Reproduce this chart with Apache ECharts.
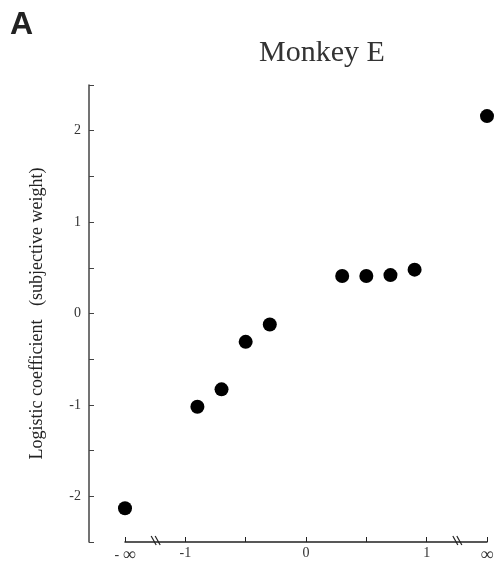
<!DOCTYPE html>
<html>
<head>
<meta charset="utf-8">
<script src="https://cdn.jsdelivr.net/npm/echarts@6/dist/echarts.min.js"></script>
<style>
  html, body { margin: 0; padding: 0; background: #fff; }
  #chart { width: 496px; height: 562px; }
</style>
</head>
<body>
<div id="chart"></div>
<script>
// Evidence strength (x, with -inf/+inf mapped to the axis ends) vs. fitted weight
var xValues = [-1.5, -0.9, -0.7, -0.5, -0.3, 0.3, 0.5, 0.7, 0.9, 1.5];
var weights = [-2.13, -1.02, -0.83, -0.31, -0.12, 0.41, 0.41, 0.42, 0.48, 2.16];
var xTickLabels = { '-1.5': '- {inf|\u221e}', '-1': '-1', '0': '0', '1': '1', '1.5': '{inf|\u221e}' };
var yTickLabels = [-2, -1, 0, 1, 2];
var breakPositions = [-1.25, 1.25];

var serif = '"Liberation Serif", "DejaVu Serif", serif';
var axisColor = '#444';

var chart = echarts.init(document.getElementById('chart'), null, { renderer: 'canvas' });

var points = xValues.map(function (x, i) { return [x, weights[i]]; });

chart.setOption({
  animation: false,
  title: [
    {
      text: 'A', left: 5, top: 4,
      textStyle: { fontFamily: '"Liberation Sans", Arial, sans-serif', fontWeight: 'bold', fontSize: 32, color: '#222' }
    },
    {
      text: 'Monkey E', left: 317, top: 33, textAlign: 'center',
      textStyle: { fontFamily: serif, fontWeight: 'normal', fontSize: 30, color: '#333' }
    }
  ],
  grid: [
    { left: 89, top: 85, right: 9, height: 457, outerBoundsMode: 'none', containLabel: false },
    { left: 125, top: 85, width: 362, height: 457, outerBoundsMode: 'none', containLabel: false }
  ],
  xAxis: [
    { gridIndex: 0, type: 'value', min: 0, max: 1, show: false },
    {
      gridIndex: 1, type: 'value', min: -1.5, max: 1.5, interval: 0.5,
      axisLine: { show: true, onZero: false, lineStyle: { color: '#222', width: 1.5 } },
      axisTick: { show: true, inside: true, length: 5, lineStyle: { color: '#222', width: 1 } },
      splitLine: { show: false },
      axisLabel: {
        margin: 4, fontFamily: serif, fontSize: 14, color: '#333',
        rich: { inf: { fontFamily: serif, fontSize: 18, color: '#333' } },
        formatter: function (v) {
          var k = String(Math.round(v * 10) / 10);
          return xTickLabels.hasOwnProperty(k) ? xTickLabels[k] : '';
        }
      }
    }
  ],
  yAxis: [
    {
      gridIndex: 0, type: 'value', min: -2.5, max: 2.5, interval: 0.5,
      name: 'Logistic coefficient   (subjective weight)',
      nameLocation: 'middle', nameGap: 43, nameRotate: 90,
      nameTextStyle: { fontFamily: serif, fontSize: 18, color: '#222' },
      axisLine: { show: true, onZero: false, lineStyle: { color: axisColor, width: 1.5 } },
      axisTick: { show: true, inside: true, length: 5, lineStyle: { color: axisColor, width: 1 } },
      splitLine: { show: false },
      axisLabel: {
        margin: 8, fontFamily: serif, fontSize: 14, color: '#333',
        formatter: function (v) {
          var r = Math.round(v * 10) / 10;
          return yTickLabels.indexOf(r) >= 0 ? String(r) : '';
        }
      }
    },
    { gridIndex: 1, type: 'value', min: -2.5, max: 2.5, show: false }
  ],
  series: [
    {
      type: 'scatter',
      xAxisIndex: 1, yAxisIndex: 1,
      data: points,
      symbol: 'circle', symbolSize: 14,
      itemStyle: { color: '#000', opacity: 1 },
      z: 5
    },
    {
      // axis-break marks on the x axis
      type: 'custom',
      xAxisIndex: 1, yAxisIndex: 1,
      data: breakPositions.map(function (x) { return [x, -2.5]; }),
      silent: true,
      renderItem: function (params, api) {
        var p = api.coord([api.value(0), api.value(1)]);
        var style = { stroke: '#222', lineWidth: 1.2, fill: null };
        return {
          type: 'group',
          children: [
            { type: 'line', shape: { x1: p[0] - 4, y1: p[1] - 6, x2: p[0] + 1, y2: p[1] + 3 }, style: style },
            { type: 'line', shape: { x1: p[0], y1: p[1] - 6, x2: p[0] + 5, y2: p[1] + 3 }, style: style }
          ]
        };
      },
      z: 6
    }
  ]
});
</script>
</body>
</html>
